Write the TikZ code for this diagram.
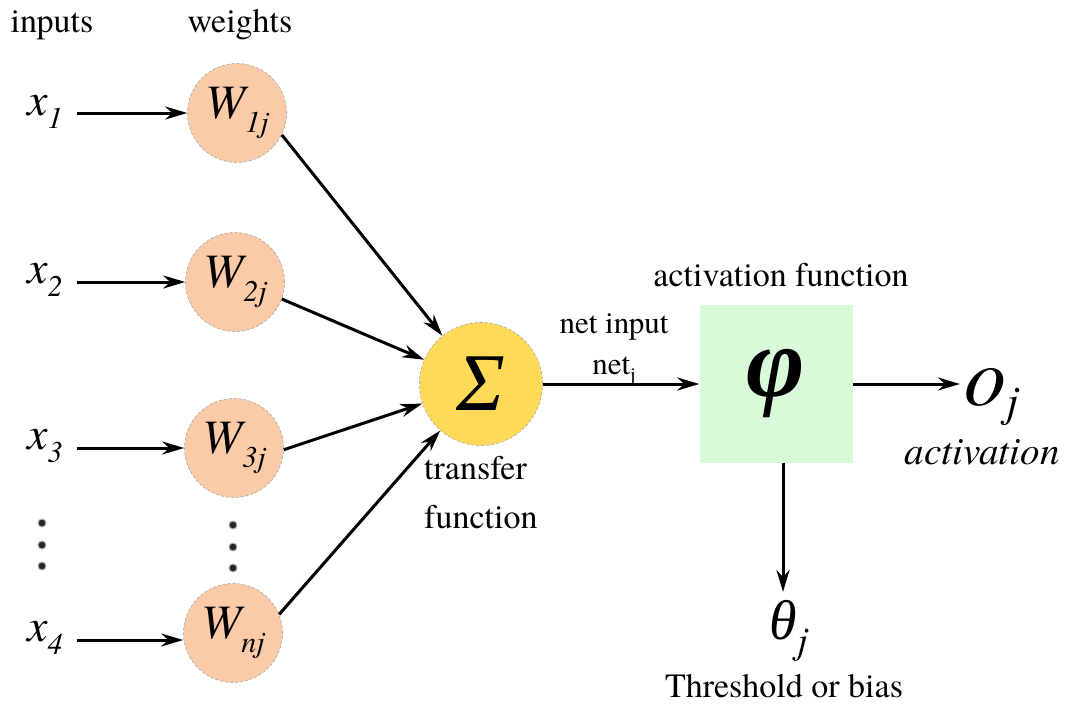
\documentclass[tikz,border=0pt]{standalone}
\usepackage{fontspec}
\setmainfont{texgyretermes}[Extension=.otf,UprightFont=*-regular,BoldFont=*-bold,ItalicFont=*-italic,BoldItalicFont=*-bolditalic]
\newfontfamily\greek{Liberation Serif}
\usetikzlibrary{arrows.meta}
\definecolor{peach}{HTML}{FBCBA8}
\definecolor{sunny}{HTML}{FEDA58}
\definecolor{mint}{HTML}{D9FAD9}
\newcommand{\fs}[1]{\fontsize{#1}{#1}\selectfont}
\begin{document}
\begin{tikzpicture}[x=1pt,y=-1pt,
  arr/.style={line width=3pt,-{Stealth[length=22pt,width=13pt,inset=7pt]}},
  wt/.style={circle,minimum size=99pt,inner sep=0pt,fill=peach,draw=gray!70,densely dashed,line width=0.6pt},
  lbl/.style={inner sep=0pt,font=\fs{34}},
  xin/.style={inner sep=0pt,font=\fs{46}\itshape},
  dot/.style={circle,inner sep=0pt,minimum size=8pt,fill=black!85,draw=gray!60,line width=1pt}]
\useasboundingbox (0,0) rectangle (1065,704);

% column headings
\node[lbl,anchor=base] (hin) at (52,32) {inputs};
\node[lbl,anchor=base] (hw) at (240,32) {weights};

% inputs
\node[xin] (x1) at (45,112) {x\raisebox{-0.28em}{\fs{30}1}};
\node[xin] (x2) at (45,280) {x\raisebox{-0.28em}{\fs{30}2}};
\node[xin] (x3) at (45,446) {x\raisebox{-0.28em}{\fs{30}3}};
\node[xin] (x4) at (45,638) {x\raisebox{-0.28em}{\fs{30}4}};

% weights
\node[wt] (w1) at (237,113) {\fs{48}\itshape W\raisebox{-0.3em}{\fs{30}1j}};
\node[wt] (w2) at (235,282) {\fs{48}\itshape W\raisebox{-0.3em}{\fs{30}2j}};
\node[wt] (w3) at (234,448) {\fs{48}\itshape W\raisebox{-0.3em}{\fs{30}3j}};
\node[wt] (w4) at (233,633) {\fs{48}\itshape W\raisebox{-0.3em}{\fs{30}nj}};

% vertical ellipses
\node[dot] (d1) at (42,523) {};
\node[dot] (d2) at (42,545) {};
\node[dot] (d3) at (42,566) {};
\node[dot] (e1) at (233,525) {};
\node[dot] (e2) at (233,547) {};
\node[dot] (e3) at (233,568) {};

% summation and activation
\node[circle,minimum size=123pt,inner sep=0pt,fill=sunny,draw=gray!70,densely dashed,line width=0.6pt] (sig) at (481,384) {\fs{82}\greek\itshape Σ};
\node[minimum width=153pt,minimum height=158pt,inner sep=0pt,fill=mint] (phi) at (776,384) {\fs{100}\greek\bfseries\itshape φ};

% labels
\node[lbl,anchor=base] (act) at (781,286) {activation function};
\node[inner sep=0pt,font=\fs{31},anchor=base] (ni) at (614,333) {net input};
\node[inner sep=0pt,font=\fs{31},anchor=base] (nj) at (614,374) {net\raisebox{-0.25em}{\fs{20}j}};
\node[lbl,anchor=base west] (tr) at (424,479) {transfer};
\node[lbl,anchor=base west] (fn) at (424,528) {function};
\node[inner sep=0pt,font=\fs{84}\itshape,anchor=base west] (oj) at (964,405) {o\raisebox{-0.14em}{\fs{44}j}};
\node[inner sep=0pt,font=\fs{39}\itshape,anchor=base] (acv) at (982,464) {activation};
\node[inner sep=0pt,anchor=base] (th) at (789,639) {\fs{56}\greek\itshape θ\raisebox{-0.25em}{\fs{38}\rmfamily\itshape j}};
\node[lbl,anchor=base] (tb) at (784,697) {Threshold or bias};

% connectors
\coordinate (a1) at (77,113);
\coordinate (a2) at (77,282);
\coordinate (a3) at (77,448);
\coordinate (a4) at (77,640);
\draw[arr] (a1) -- (a1 -| w1.west);
\draw[arr] (a2) -- (a2 -| w2.west);
\draw[arr] (a3) -- (a3 -| w3.west);
\draw[arr] (a4) -- (a4 -| w4.west);
\draw[arr] (w1.-26) -- (sig);
\draw[arr] (w2.-20) -- (sig);
\draw[arr] (w3.-2) -- (sig);
\draw[arr] (w4.22) -- (sig);
\draw[arr] (sig) -- (phi);
\coordinate (oe) at (960,384);
\draw[arr] (phi) -- (oe);
\coordinate (te) at (783,592);
\draw[arr] (phi.south -| te) -- (te);
\end{tikzpicture}
\end{document}
